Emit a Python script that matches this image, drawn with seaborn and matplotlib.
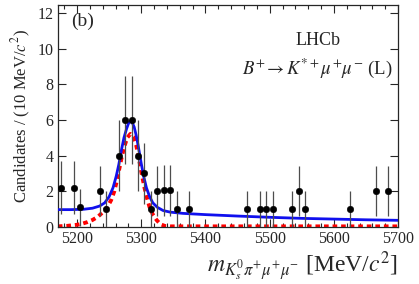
import numpy as np
import pandas as pd
import matplotlib
matplotlib.use("Agg")
import matplotlib.pyplot as plt
import matplotlib.ticker as ticker
import seaborn as sns

# data points (bin centres in MeV, weighted candidates, errors)
bin_centres = [5175, 5195, 5205, 5235, 5245, 5265, 5275, 5285, 5295, 5305,
               5315, 5325, 5335, 5345, 5355, 5375, 5465, 5485, 5495, 5505,
               5535, 5545, 5555, 5625, 5665, 5685]
candidates = [2.2, 2.2, 1.1, 2.0, 1.0, 4.0, 6.0, 6.0, 4.0, 3.0,
              1.0, 2.0, 2.05, 2.05, 1.0, 1.0, 1.0, 1.0, 1.0, 1.0,
              1.0, 2.0, 1.0, 1.0, 2.0, 2.0]
errors = [1.48, 1.48, 1.05, 1.41, 1.0, 2.0, 2.45, 2.45, 2.0, 1.73,
          1.0, 1.41, 1.43, 1.43, 1.0, 1.0, 1.0, 1.0, 1.0, 1.0,
          1.0, 1.41, 1.0, 1.0, 1.41, 1.41]

# total fit (blue)
fit_mass = [5170, 5190, 5210, 5224, 5235, 5243, 5250, 5256, 5261, 5265,
            5269, 5273, 5277, 5280, 5283, 5286, 5289, 5292, 5295, 5300,
            5304, 5308, 5313, 5318, 5325, 5334, 5345, 5365, 5400, 5450,
            5500, 5550, 5600, 5650, 5700]
fit_total = [0.97, 0.97, 0.99, 1.05, 1.17, 1.35, 1.7, 2.2, 2.85, 3.5,
             4.3, 5.0, 5.5, 5.8, 5.95, 5.85, 5.6, 5.15, 4.6, 3.55,
             2.8, 2.2, 1.7, 1.35, 1.1, 0.92, 0.83, 0.76, 0.69, 0.61,
             0.54, 0.48, 0.44, 0.40, 0.37]

# signal component (red dashed)
sig_mass = [5170, 5185, 5200, 5208, 5216, 5224, 5232, 5240, 5247, 5253,
            5258, 5262, 5266, 5270, 5274, 5278, 5283, 5288, 5292, 5296,
            5300, 5305, 5309, 5313, 5318, 5324, 5330, 5337, 5345, 5400,
            5700]
sig_curve = [0.03, 0.06, 0.12, 0.18, 0.27, 0.39, 0.56, 0.82, 1.1, 1.5,
             2.0, 2.6, 3.3, 4.0, 4.55, 5.0, 5.22, 5.05, 4.6, 3.9,
             3.1, 2.2, 1.6, 1.1, 0.7, 0.38, 0.15, 0.05, 0.03, 0.03,
             0.03]

sns.set_style("ticks")
plt.rcParams['font.family'] = ['Liberation Serif', 'DejaVu Serif']
plt.rcParams['mathtext.fontset'] = 'stix'
plt.rcParams.update({'font.size': 11})

fig = plt.figure(figsize=(4.19, 2.84), dpi=100)
ax = fig.add_axes([0.138, 0.201, 0.812, 0.781])

df_pts = pd.DataFrame({'mass': bin_centres, 'n': candidates, 'err': errors})
df_fit = pd.DataFrame({'mass': fit_mass, 'y': fit_total})
df_sig = pd.DataFrame({'mass': sig_mass, 'y': sig_curve})

sns.lineplot(data=df_sig, x='mass', y='y', ax=ax, color='red',
             linestyle=(0, (1.2, 1.0)), linewidth=2.8, zorder=2)
sns.lineplot(data=df_fit, x='mass', y='y', ax=ax, color='#1010ee',
             linewidth=2.0, zorder=3)
ax.errorbar(df_pts['mass'], df_pts['n'], yerr=df_pts['err'], fmt='none',
            ecolor='0.3', elinewidth=0.9, zorder=4)
sns.scatterplot(data=df_pts, x='mass', y='n', ax=ax, color='black',
                s=22, edgecolor='black', zorder=5)

ax.set_xlim(5170, 5700)
ax.set_ylim(0, 12.45)
ax.xaxis.set_major_locator(ticker.MultipleLocator(100))
ax.xaxis.set_minor_locator(ticker.MultipleLocator(20))
ax.yaxis.set_major_locator(ticker.MultipleLocator(2))
ax.tick_params(which='both', direction='in', top=True, right=True,
               labelsize=11.5, pad=3)
ax.tick_params(which='major', length=6, width=0.8)
ax.tick_params(which='minor', length=3, width=0.8)
for s in ax.spines.values():
    s.set_linewidth(0.9)

ax.set_ylabel('Candidates / (10 MeV/$c^2$)', fontsize=12, labelpad=3)
ax.set_xlabel(r'$m_{K_s^{0}\pi^{+}\mu^{+}\mu^{-}}$ [MeV/$c^2$]',
              fontsize=17, labelpad=0)
ax.xaxis.set_label_coords(1.0, -0.10)
ax.xaxis.label.set_horizontalalignment('right')

ax.text(0.04, 0.925, '(b)', transform=ax.transAxes, fontsize=14, va='center')
ax.text(0.765, 0.84, 'LHCb', transform=ax.transAxes, fontsize=13,
        ha='center', va='center')
ax.text(0.985, 0.715, r'$B^{+}\!\rightarrow K^{*+}\mu^{+}\mu^{-}$ (L)',
        transform=ax.transAxes, fontsize=13.5, ha='right', va='center')

plt.savefig('out.png', dpi=100)
